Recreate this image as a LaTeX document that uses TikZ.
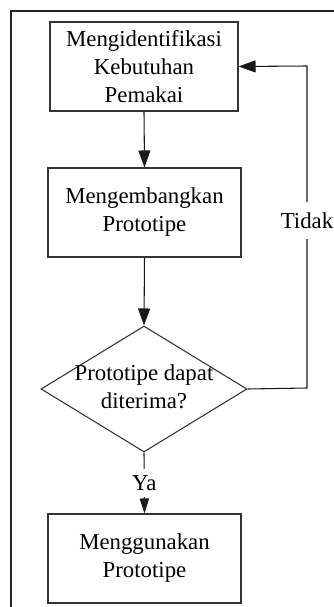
\documentclass[tikz,border=0pt]{standalone}
\usepackage{fontspec}
\setmainfont{Liberation Serif}
\usetikzlibrary{shapes.geometric,arrows.meta}
\begin{document}
\begin{tikzpicture}[x=0.75pt,y=-0.75pt,
  every node/.style={font=\fontsize{17.1}{21}\selectfont, align=center},
  procbox/.style={draw=black!80, line width=0.8pt, minimum width=#1*0.75pt, minimum height=66.75pt, inner sep=0pt},
  dia/.style={draw=black!80, line width=0.8pt, diamond, minimum width=154.5pt, minimum height=94.5pt, inner sep=0pt},
  conn/.style={draw=black!90, line width=0.8pt},
  arr/.style={conn, -{Triangle[length=12.75pt, width=9pt]}},
  arrsmall/.style={conn, -{Triangle[length=11.25pt, width=7pt]}},
  lbl/.style={fill=white, inner xsep=1pt}
]
\useasboundingbox (0,0) rectangle (333,607);
\draw[line width=1.5pt, black!85] (11,608) -- (11,11) -- (334,11);

\node[procbox=188] (b1) at (144,66.5) {Mengidentifikasi\\Kebutuhan\\Pemakai};
\node[procbox=193] (b2) at (144.5,212.5) {Mengembangkan\\Prototipe};
\node[dia] (d) at (144,389) {};
\node (dt) at (144,387) {Prototipe dapat\\diterima?};
\node[procbox=193] (b4) at (144.5,558.5) {Menggunakan\\Prototipe};

\coordinate (c1) at (307,388);
\coordinate (c2) at (307,66);

\draw[arr] (b1.south) -- (b2.north);
\draw[arr] (b2.south) -- (d.north);
\draw[arrsmall] (d.south) -- node[lbl, inner ysep=4.5pt] (ya) {Ya} (b4.north);
\draw[arr] (d.east) -- (c1) -- node[lbl, pos=0.52, inner ysep=8pt] (td) {Tidak} (c2) -- (b1.east);
\end{tikzpicture}
\end{document}
